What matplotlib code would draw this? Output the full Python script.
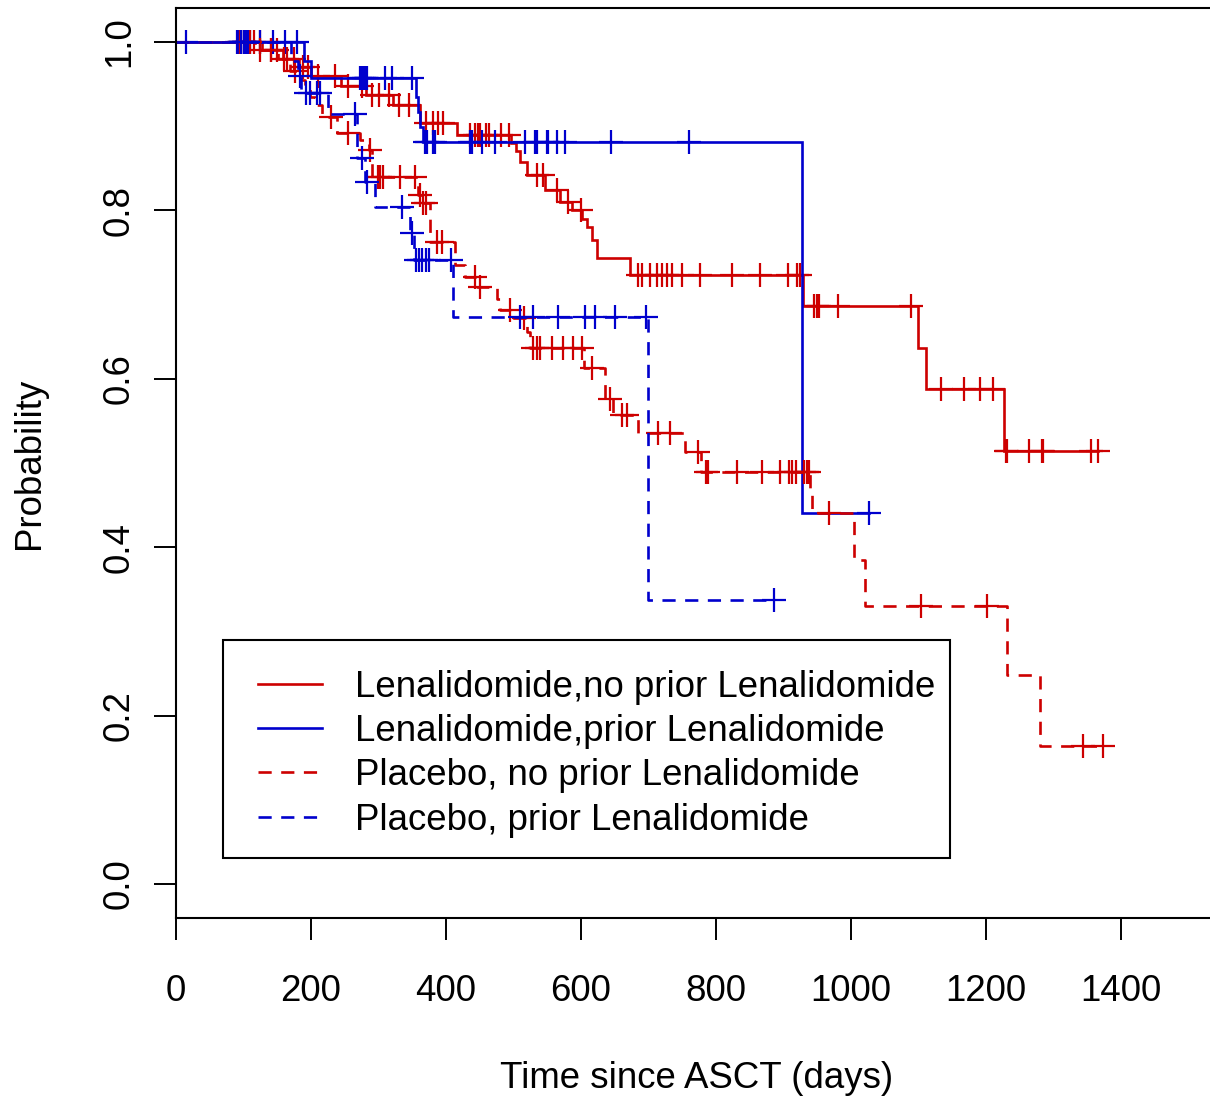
import numpy as np
import matplotlib
matplotlib.use('Agg')
import matplotlib.pyplot as plt
from matplotlib.lines import Line2D
from matplotlib.patches import Rectangle

plt.rcParams['font.family'] = ['Liberation Sans', 'DejaVu Sans']

# ---------------- data ----------------
labels = ["Lenalidomide,no prior Lenalidomide",
          "Lenalidomide,prior Lenalidomide",
          "Placebo, no prior Lenalidomide",
          "Placebo, prior Lenalidomide"]

# Lenalidomide, no prior Lenalidomide (red, solid)
len_noprior_event_days = [128, 158, 182, 200, 245, 282, 322, 361, 416, 497, 503, 510, 520,
                          547, 569, 587, 601, 609, 616, 624, 673, 929, 1099, 1111, 1227]
len_noprior_surv = [0.99, 0.98, 0.97, 0.96, 0.948, 0.937, 0.925, 0.904, 0.89, 0.88, 0.87, 0.858,
                    0.842, 0.824, 0.81, 0.80, 0.79, 0.78, 0.765, 0.743, 0.723, 0.686, 0.637,
                    0.5875, 0.514]
len_noprior_censor_days = [100, 105, 115, 125, 140, 150, 165, 175, 188, 195, 210, 235, 255, 275,
                           290, 300, 315, 330, 345, 370, 381, 388, 396, 435, 443, 447, 450, 460,
                           463, 481, 493, 535, 544, 564, 580, 600, 684, 690, 702, 713, 720, 727,
                           735, 750, 776, 824, 865, 907, 920, 924, 945, 950, 953, 981, 1089,
                           1133, 1167, 1191, 1210, 1230, 1231, 1264, 1283, 1284, 1356, 1366]

# Lenalidomide, prior Lenalidomide (blue, solid)
len_prior_event_days = [190, 200, 356, 359, 362, 366, 927]
len_prior_surv = [0.978, 0.957, 0.935, 0.917, 0.899, 0.881, 0.441]
len_prior_censor_days = [15, 90, 93, 95, 97, 100, 102, 105, 108, 110, 124, 144, 161, 179, 272,
                         275, 278, 281, 283, 310, 320, 350, 369, 372, 381, 384, 436, 439, 453,
                         473, 517, 532, 535, 550, 551, 564, 576, 644, 760, 1027]

# Placebo, no prior Lenalidomide (red, dashed)
pla_noprior_event_days = [117, 151, 169, 184, 191, 199, 206, 216, 238, 273, 286, 290, 358, 364,
                          376, 413, 428, 446, 476, 480, 497, 520, 524, 605, 636, 648, 684, 754,
                          778, 939, 942, 1004, 1021, 1231, 1280]
pla_noprior_surv = [0.99, 0.98, 0.965, 0.955, 0.945, 0.935, 0.925, 0.911, 0.892, 0.884, 0.872,
                    0.84, 0.818, 0.809, 0.762, 0.735, 0.721, 0.709, 0.695, 0.682, 0.672, 0.655,
                    0.636, 0.613, 0.576, 0.557, 0.536, 0.513, 0.489, 0.468, 0.441, 0.385,
                    0.330, 0.248, 0.164]
pla_noprior_censor_days = [95, 110, 125, 140, 160, 176, 230, 255, 287, 299, 302, 307, 332, 354,
                           362, 366, 370, 387, 394, 443, 450, 495, 515, 529, 535, 539, 557, 573,
                           588, 601, 616, 643, 661, 668, 714, 732, 773, 785, 788, 831, 868, 895,
                           908, 913, 919, 930, 935, 938, 967, 1104, 1201, 1344, 1373]

# Placebo, prior Lenalidomide (blue, dashed)
pla_prior_event_days = [170, 180, 185, 225, 268, 280, 295, 347, 353, 411, 699]
pla_prior_surv = [0.978, 0.96, 0.94, 0.915, 0.862, 0.834, 0.804, 0.773, 0.741, 0.673, 0.337]
pla_prior_censor_days = [96, 101, 106, 184, 192, 199, 209, 213, 265, 276, 283, 335, 350, 356,
                         360, 364, 370, 375, 408, 510, 529, 566, 606, 621, 650, 696, 886]

x_ticks = [0, 200, 400, 600, 800, 1000, 1200, 1400]
y_ticks = [0.0, 0.2, 0.4, 0.6, 0.8, 1.0]

RED = '#CD0000'
BLUE = '#0000CD'
DASH = (0, (5.0, 3.6))

series = [
    (len_noprior_event_days, len_noprior_surv, len_noprior_censor_days, RED, '-'),
    (len_prior_event_days, len_prior_surv, len_prior_censor_days, BLUE, '-'),
    (pla_noprior_event_days, pla_noprior_surv, pla_noprior_censor_days, RED, DASH),
    (pla_prior_event_days, pla_prior_surv, pla_prior_censor_days, BLUE, DASH),
]

FS = 26.4

# ---------------- figure ----------------
W, H = 1210, 1098
fig = plt.figure(figsize=(W / 100, H / 100), dpi=100)
ax_left, ax_right, ax_top, ax_bottom = 176, 1214, 8, 918
ax = fig.add_axes([ax_left / W, 1 - ax_bottom / H, (ax_right - ax_left) / W, (ax_bottom - ax_top) / H])

LW = 1.9
for ev_t, ev_s, cens, col, ls in series:
    ev_t = np.asarray(ev_t, float)
    ev_s = np.asarray(ev_s, float)
    cens = np.asarray(cens, float)
    t_end = max(ev_t.max(), cens.max())
    tt = np.concatenate([[0.0], ev_t, [t_end]])
    ss = np.concatenate([[1.0], ev_s, [ev_s[-1]]])
    ax.step(tt, ss, where='post', color=col, lw=LW, linestyle=ls,
            solid_joinstyle='miter', dash_capstyle='butt', zorder=2)
    idx = np.searchsorted(ev_t, cens, side='right')
    levels = np.concatenate([[1.0], ev_s])[idx]
    ax.plot(cens, levels, linestyle='none', marker='+', markersize=17,
            markeredgewidth=1.6, color=col, zorder=2)

ax.set_xlim(0, (ax_right - ax_left) / 0.675)
ax.set_ylim(-0.0404, 1.0404)

ax.set_xticks(x_ticks)
ax.set_xticklabels([str(v) for v in x_ticks])
ax.set_yticks(y_ticks)
ax.set_yticklabels(['%.1f' % v for v in y_ticks], rotation=90, va='center')
ax.tick_params(axis='both', direction='out', length=16, width=1.4, labelsize=FS, color='black')
ax.tick_params(axis='x', pad=24)
ax.tick_params(axis='y', pad=12)
for sp in ax.spines.values():
    sp.set_linewidth(1.5)
    sp.set_color('black')

fig.text(697 / W, 1 - 1079 / H, "Time since ASCT (days)", ha='center', va='center', fontsize=FS)
fig.text(30 / W, 1 - 463 / H, "Probability", ha='center', va='center', fontsize=FS, rotation=90)

# legend: frame drawn as a rectangle (inside the axes' artist list), entries by legend
frame = Rectangle((223 / W, 1 - 858 / H), (950 - 223) / W, (858 - 640) / H,
                  transform=fig.transFigure, facecolor='white', edgecolor='black',
                  linewidth=1.5, zorder=4, clip_on=False)
ax.add_artist(frame)
handles = [Line2D([], [], color=c, lw=LW, linestyle=ls) for _, _, _, c, ls in series]
leg = ax.legend(handles, labels, loc='upper left',
                bbox_to_anchor=(258 / W, 1 - 670 / H), bbox_transform=fig.transFigure,
                borderaxespad=0, fontsize=FS, handlelength=1.74, handletextpad=0.9,
                borderpad=0.0, labelspacing=0.25, frameon=False)
leg.set_zorder(6)

fig.savefig('out.png', dpi=100)
